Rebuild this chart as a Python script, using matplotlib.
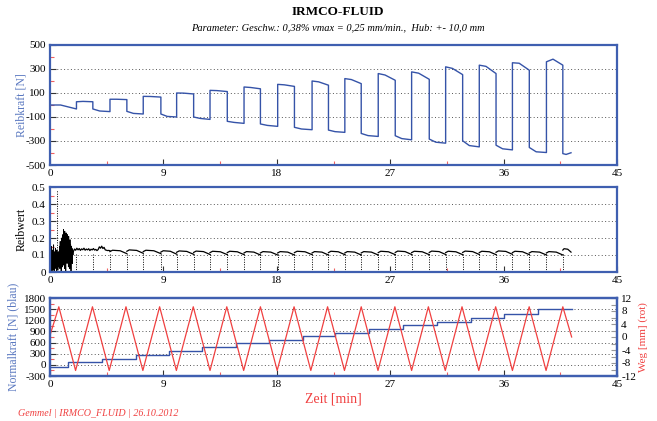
import numpy as np
import matplotlib
matplotlib.use("Agg")
import matplotlib.pyplot as plt
from matplotlib.ticker import MultipleLocator

plt.rcParams['font.family'] = ['Liberation Serif', 'DejaVu Serif']
plt.rcParams['axes.unicode_minus'] = False

# time axis [min]
x_ticks = [0, 9, 18, 27, 36, 45]

# Reibkraft: reversal times and three levels per segment (start, 40 %, end)
rk_t = [0.0, 2.1, 3.4, 4.76, 6.1, 7.4, 8.8, 10.05, 11.4, 12.7, 14.07, 15.4, 16.7,
        18.07, 19.4, 20.8, 22.1, 23.4, 24.7, 26.05, 27.4, 28.7, 30.1, 31.4,
        32.75, 34.07, 35.4, 36.7, 38.04, 39.4, 40.7, 41.35]
rk_a = [0, 27, -33, 48, -53, 72, -75, 100, -100, 122, -136, 150, -158, 172, -186,
        200, -209, 220, -237, 262, -256, 276, -284, 318, -298, 332, -335, 352, -354,
        360, -405]
rk_b = [0, 30, -50, 48, -70, 71, -95, 99, -112, 120, -145, 146, -170, 168, -200,
        193, -222, 212, -255, 250, -280, 265, -310, 305, -338, 322, -365, 348, -390,
        382, -412]
rk_c = [-33, 27, -55, 45, -75, 66, -100, 92, -120, 112, -153, 135, -178, 155, -206,
        165, -228, 178, -262, 206, -290, 214, -318, 253, -349, 262, -374, 290, -396,
        332, -398]

# Reibwert: noisy start (0 .. 1.85 min) and settling band (1.85 .. 4.76 min)
rw_noise = [0.02, 0.14, 0.01, 0.12, 0.03, 0.15, 0.0, 0.10, 0.05, 0.13, 0.01, 0.16,
            0.04, 0.09, 0.0, 0.12, 0.06, 0.14, 0.02, 0.11, 0.0, 0.13, 0.05, 0.08,
            0.01, 0.12, 0.03, 0.10, 0.06, 0.15, 0.02, 0.18, 0.05, 0.12, 0.0, 0.20,
            0.08, 0.16, 0.03, 0.22, 0.04, 0.25, 0.10, 0.21, 0.02, 0.24, 0.08, 0.19,
            0.0, 0.23, 0.12, 0.20, 0.05, 0.22, 0.09, 0.18, 0.03, 0.21, 0.10, 0.17,
            0.02, 0.19, 0.07, 0.16, 0.0, 0.15, 0.09, 0.14, 0.05, 0.13, 0.10, 0.12]
rw_band = [0.12, 0.135, 0.128, 0.14, 0.13, 0.138, 0.127, 0.136, 0.131, 0.14, 0.128,
           0.135, 0.13, 0.137, 0.126, 0.134, 0.13, 0.138, 0.129, 0.133, 0.126, 0.132,
           0.148, 0.14, 0.152, 0.138, 0.145, 0.13, 0.128, 0.126, 0.127, 0.125]
# plateau per segment from 4.76 min on
rw_top = [0.128, 0.13, 0.128, 0.125, 0.124, 0.123, 0.122, 0.122, 0.12, 0.12, 0.12,
          0.122, 0.12, 0.122, 0.12, 0.12, 0.122, 0.123, 0.122, 0.123, 0.122, 0.123,
          0.122, 0.124, 0.122, 0.12, 0.12, 0.137]

# Normalkraft steps
nk_t = [0.0, 1.4, 4.1, 6.8, 9.47, 12.1, 14.8, 17.4, 20.05, 22.6, 25.3, 28.0, 30.7,
        33.4, 36.0, 38.7, 41.4]
nk = [-50, 82, 164, 255, 364, 473, 582, 682, 782, 864, 973, 1082, 1164, 1273,
      1373, 1491]

# Weg: triangle vertices
weg_t = [0.0, 0.7, 2.03, 3.37, 4.7, 6.03, 7.37, 8.7, 10.03, 11.37, 12.7, 14.03,
         15.37, 16.7, 18.03, 19.37, 20.7, 22.03, 23.37, 24.7, 26.03, 27.37, 28.7,
         30.03, 31.37, 32.7, 34.03, 35.37, 36.7, 38.03, 39.37, 40.7, 41.4]
weg = [0.5, 9.3, -10.3, 9.3, -10.3, 9.3, -10.3, 9.3, -10.3, 9.3, -10.3, 9.3, -10.3,
       9.3, -10.3, 9.3, -10.3, 9.3, -10.3, 9.3, -10.3, 9.3, -10.3, 9.3, -10.3, 9.3,
       -10.3, 9.3, -10.3, 9.3, -10.3, 9.3, 0.0]

FRAME = '#3f5fb0'
BLUE = '#3553a8'
LBLUE = '#5a78c0'
RED = '#f04040'


def style_axis(ax, ymin, ymax, ystep, ygrid):
    ax.set_xlim(0, 45)
    ax.set_ylim(ymin, ymax)
    for s in ax.spines.values():
        s.set_color(FRAME)
        s.set_linewidth(1.6)
    ax.set_xticks(x_ticks)
    ax.xaxis.set_minor_locator(MultipleLocator(4.5))
    ax.yaxis.set_major_locator(MultipleLocator(ystep))
    ax.yaxis.set_minor_locator(MultipleLocator(ystep / 2))
    ax.tick_params(which='major', direction='in', length=4, width=0.8,
                   color='#333333', labelsize=8, pad=3, top=False, right=False)
    ax.tick_params(which='minor', direction='in', length=3, width=0.8,
                   color='#f06060', top=False, right=False)
    for g in ygrid:
        ax.axhline(g, color='#555555', lw=0.7, ls=(0, (1, 2.5)), zorder=0)


fig = plt.figure(figsize=(6.57, 4.21), dpi=100)
ax1 = fig.add_axes([50 / 657, 1 - 165 / 421, 567 / 657, 120 / 421])
ax2 = fig.add_axes([50 / 657, 1 - 272 / 421, 567 / 657, 85 / 421])
ax3 = fig.add_axes([50 / 657, 1 - 376 / 421, 567 / 657, 78 / 421])

# Reibkraft
style_axis(ax1, -500, 500, 200, [300, 100, -100, -300])
ax1.set_yticks([-500, -300, -100, 100, 300, 500])
ax1.set_yticks([-400, -200, 0, 200, 400], minor=True)
xs, ys = [], []
for i in range(len(rk_a)):
    t0, t1 = rk_t[i], rk_t[i + 1]
    xs += [t0, t0 + 0.4 * (t1 - t0), t1]
    ys += [rk_a[i], rk_b[i], rk_c[i]]
ax1.plot(xs, ys, color=BLUE, lw=1.0)
ax1.set_ylabel('Reibkraft [N]', color=LBLUE, fontsize=8.5)
ax1.yaxis.set_label_coords(-0.04, 0.5)

# Reibwert
style_axis(ax2, 0, 0.5, 0.1, [0.4, 0.3, 0.2, 0.1])
ax2.set_yticks([0, 0.1, 0.2, 0.3, 0.4, 0.5])
ax2.set_yticklabels(['0', '0.1', '0.2', '0.3', '0.4', '0.5'])
ax2.plot(np.linspace(0, 1.85, len(rw_noise)), rw_noise, color='black', lw=0.6)
ax2.plot(np.linspace(1.85, 4.76, len(rw_band)), rw_band, color='black', lw=0.9)
for i, top in enumerate(rw_top):
    t0, t1 = rk_t[i + 3], rk_t[i + 4]
    d = t1 - t0
    ax2.plot([t0, t0 + 0.15 * d, t0 + 0.6 * d, t1],
             [top - 0.008, top, top - 0.003, top - 0.02], color='black', lw=0.9)
for t in rk_t[1:-1]:
    ax2.plot([t, t], [0, 0.11], color='black', lw=0.7, ls=(0, (1, 1.5)))
ax2.plot([0.53, 0.53], [0, 0.48], color='black', lw=0.7, ls=(0, (1, 1.5)))
ax2.set_ylabel('Reibwert', color='black', fontsize=8.5)
ax2.yaxis.set_label_coords(-0.04, 0.5)

# Normalkraft + Weg
style_axis(ax3, -300, 1800, 300, [1500, 1200, 900, 600, 300, 0])
nx, ny = [], []
for i in range(len(nk)):
    nx += [nk_t[i], nk_t[i + 1]]
    ny += [nk[i], nk[i]]
ax3.plot(nx, ny, color=BLUE, lw=1.0, zorder=3)
ax3.set_ylabel('Normalkraft [N] (blau)', color=LBLUE, fontsize=8.5)
ax3.yaxis.set_label_coords(-0.054, 0.5)

ax4 = ax3.twinx()
ax4.set_ylim(-12, 12)
ax4.set_xlim(0, 45)
ax4.set_yticks([-12, -8, -4, 0, 4, 8, 12])
ax4.yaxis.set_minor_locator(MultipleLocator(2))
ax4.tick_params(which='both', direction='in', length=4, width=0.8, color='#999999',
                labelsize=8, pad=3)
for s in ax4.spines.values():
    s.set_color(FRAME)
    s.set_linewidth(1.6)
ax4.plot(weg_t, weg, color=RED, lw=0.9, zorder=2)
ax4.set_ylabel('Weg [mm] (rot)', color=RED, fontsize=8, rotation=90, va='center')
ax4.yaxis.set_label_coords(1.046, 0.5)

fig.text(0.515, 1 - 12 / 421, 'IRMCO-FLUID', ha='center', va='center',
         fontsize=9.5, fontweight='bold')
fig.text(0.515, 1 - 28 / 421,
         'Parameter: Geschw.: 0,38% vmax = 0,25 mm/min.,  Hub: +- 10,0 mm',
         ha='center', va='center', fontsize=7.5, style='italic')
fig.text(333 / 657, 1 - 399 / 421, 'Zeit [min]', ha='center', va='center',
         fontsize=10, color=RED)
fig.text(18 / 657, 1 - 413 / 421, 'Gemmel | IRMCO_FLUID | 26.10.2012', ha='left',
         va='center', fontsize=7.2, style='italic', color=RED)

fig.savefig('out.png', dpi=100)
